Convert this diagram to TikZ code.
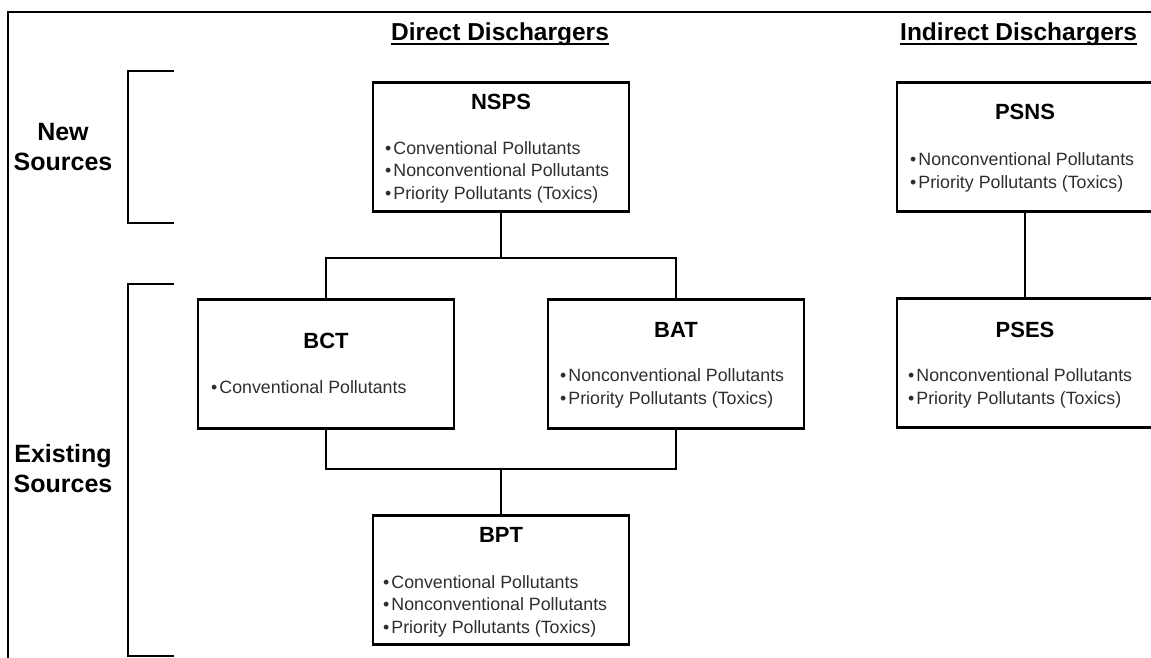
\documentclass[tikz,border=0pt]{standalone}
\usepackage{fontspec}
\setmainfont{Liberation Sans}
\usetikzlibrary{positioning}
\tikzset{
  effbox/.style={draw, line width=2.6pt, minimum width=256pt, minimum height=129pt, inner sep=0pt},
  efftitle/.style={font=\fontsize{22}{24}\selectfont\bfseries, inner sep=0pt, anchor=base},
  efflist/.style={font=\fontsize{17.8}{22.2}\selectfont, text=black!82, align=left, inner sep=0pt, anchor=base west},
  effhead/.style={font=\fontsize{24.5}{28}\selectfont\bfseries, inner sep=0pt, anchor=base},
  effside/.style={font=\fontsize{25}{30}\selectfont\bfseries, align=center, inner sep=0pt, anchor=base},
  efflink/.style={line width=1.8pt},
  effbrace/.style={line width=1.8pt}
}
\newcommand{\pbul}{\textbullet\hspace{2pt}}

\begin{document}
\begin{tikzpicture}[x=1pt, y=-1pt]
  \useasboundingbox (0,0) rectangle (1151,658);
  \begin{scope}
  \clip (0,0) rectangle (1151,658);
  % frame
  \draw[line width=2.2pt] (1170,12) -- (8,12) -- (8,680);
  % headings
  \node[effhead] (dirhead) at (500,41) {Direct Dischargers};
  \node[effhead, anchor=base west] (indhead) at (900,41) {Indirect Dischargers};
  \draw[line width=2pt] ([yshift=-3.5pt]dirhead.base west) -- ([yshift=-3.5pt]dirhead.base east);
  \draw[line width=2pt] ([yshift=-3.5pt]indhead.base west) -- ([yshift=-3.5pt]indhead.base east);
  % side labels and brackets
  \node[effside] (newsrc) at (63,170) {New\\Sources};
  \node[effside] (oldsrc) at (63,492) {Existing\\Sources};
  \draw[effbrace] (174,71) -- (128,71) -- (128,223) -- (174,223);
  \draw[effbrace] (174,284) -- (128,284) -- (128,656) -- (174,656);
  % direct dischargers
  \node[effbox] (nsps) at (501,147) {};
  \node[efftitle] (nspsT) at (501,110) {NSPS};
  \node[efflist] (nspsL) at (385,199) {\pbul Conventional Pollutants\\\pbul Nonconventional Pollutants\\\pbul Priority Pollutants (Toxics)};
  \node[effbox] (bct) at (326,364) {};
  \node[efftitle] (bctT) at (326,348) {BCT};
  \node[efflist] (bctL) at (211,393) {\pbul Conventional Pollutants};
  \node[effbox] (bat) at (676,364) {};
  \node[efftitle] (batT) at (676,337) {BAT};
  \node[efflist] (batL) at (560,404) {\pbul Nonconventional Pollutants\\\pbul Priority Pollutants (Toxics)};
  \node[effbox] (bpt) at (501,580) {};
  \node[efftitle] (bptT) at (501,542) {BPT};
  \node[efflist] (bptL) at (383,633) {\pbul Conventional Pollutants\\\pbul Nonconventional Pollutants\\\pbul Priority Pollutants (Toxics)};
  % indirect dischargers
  \node[effbox] (psns) at (1025,147) {};
  \node[efftitle] (psnsT) at (1025,120) {PSNS};
  \node[efflist] (psnsL) at (910,188) {\pbul Nonconventional Pollutants\\\pbul Priority Pollutants (Toxics)};
  \node[effbox] (pses) at (1025,363) {};
  \node[efftitle] (psesT) at (1025,337) {PSES};
  \node[efflist] (psesL) at (908,404) {\pbul Nonconventional Pollutants\\\pbul Priority Pollutants (Toxics)};
  % connectors
  \coordinate (topfork) at (501,258);
  \coordinate (botfork) at (501,469);
  \draw[efflink] (nsps.south) -- (topfork);
  \draw[efflink] (bct.north) |- (topfork) -| (bat.north);
  \draw[efflink] (bct.south) |- (botfork) -| (bat.south);
  \draw[efflink] (botfork) -- (bpt.north);
  \draw[efflink] (psns.south) -- (pses.north);
  \end{scope}
\end{tikzpicture}
\end{document}
